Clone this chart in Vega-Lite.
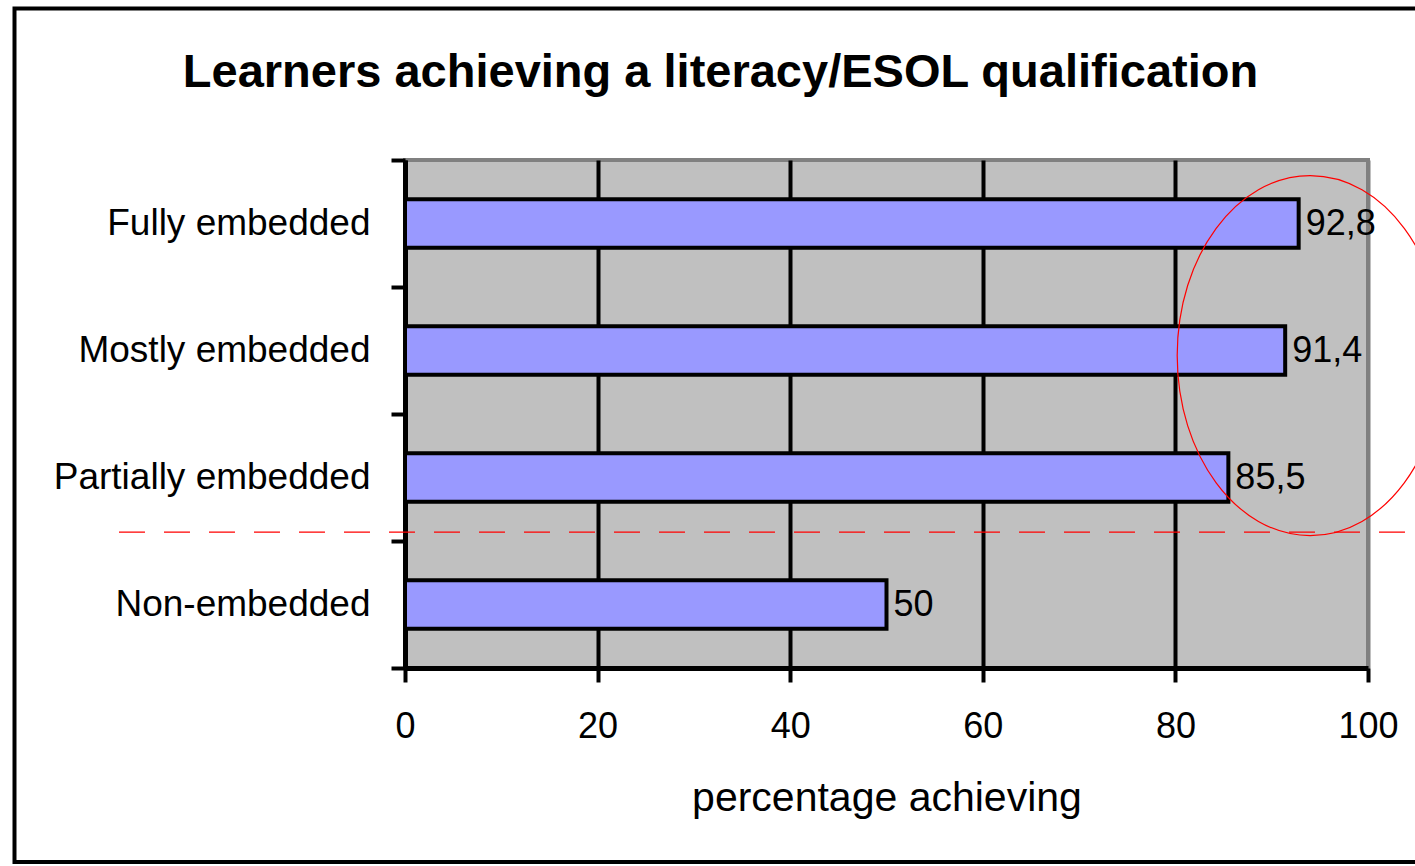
{
  "$schema": "https://vega.github.io/schema/vega-lite/v6.json",
  "autosize": {"type": "none"},
  "width": 963,
  "height": 508,
  "padding": {"left": 405, "top": 160, "right": 47, "bottom": 198},
  "background": "white",
  "config": {
    "font": "Liberation Sans",
    "view": {"fill": "#C0C0C0", "stroke": "#808080", "strokeWidth": 4}
  },
  "title": {
    "text": "Learners achieving a literacy/ESOL qualification",
    "font": "Liberation Sans",
    "fontSize": 47,
    "fontWeight": "bold",
    "color": "black",
    "anchor": "middle",
    "frame": "group",
    "dx": -166,
    "baseline": "alphabetic",
    "offset": -128
  },
  "datasets": {
    "bars": [
      {"category": "Fully embedded", "value": 92.8, "label": "92,8"},
      {"category": "Mostly embedded", "value": 91.4, "label": "91,4"},
      {"category": "Partially embedded", "value": 85.5, "label": "85,5"},
      {"category": "Non-embedded", "value": 50, "label": "50"}
    ],
    "cutoff": [{"x": -29.7, "x2": 105.5, "y": 2.93}],
    "circle": [{"x": 94.0, "y": 1.54}],
    "frame": [{"x": -40.55, "x2": 107, "y": -1.193, "y2": 5.528}]
  },
  "resolve": {"scale": {"y": "independent"}},
  "layer": [
    {
      "data": {"name": "bars"},
      "encoding": {
        "y": {
          "field": "category",
          "type": "nominal",
          "sort": null,
          "scale": {"paddingInner": 0, "paddingOuter": 0},
          "axis": {
            "title": null,
            "domainColor": "black",
            "domainWidth": 5,
            "tickColor": "black",
            "tickWidth": 4,
            "tickSize": 14,
            "tickBand": "extent",
            "labelFontSize": 37,
            "labelColor": "black",
            "labelPadding": 21,
            "labelLimit": 400,
            "grid": false
          }
        },
        "x": {
          "field": "value",
          "type": "quantitative",
          "scale": {"domain": [0, 100], "nice": false},
          "axis": {
            "values": [0, 20, 40, 60, 80, 100],
            "grid": true,
            "gridColor": {"condition": {"test": "datum.value === 100", "value": "#808080"}, "value": "black"},
            "gridWidth": 4,
            "domainColor": "black",
            "domainWidth": 5,
            "tickColor": "black",
            "tickWidth": 4,
            "tickSize": 14,
            "labelFontSize": 36,
            "labelColor": "black",
            "labelPadding": 27,
            "labelFlush": false,
            "title": "percentage achieving",
            "titleFontSize": 41,
            "titleFontWeight": "normal",
            "titleColor": "black",
            "titlePadding": 34
          }
        }
      },
      "layer": [
        {"mark": {"type": "bar", "fill": "#9999FF", "stroke": "black", "strokeWidth": 4, "height": {"band": 0.38}}},
        {
          "mark": {"type": "text", "align": "left", "baseline": "middle", "dx": 7, "fontSize": 36, "color": "black"},
          "encoding": {"text": {"field": "label"}}
        }
      ]
    },
    {
      "data": {"name": "cutoff"},
      "mark": {"type": "rule", "color": "#FF0000", "strokeWidth": 1.3, "strokeDash": [26, 19], "clip": false},
      "encoding": {
        "x": {"field": "x", "type": "quantitative", "scale": {"domain": [0, 100], "nice": false}},
        "x2": {"field": "x2"},
        "y": {"field": "y", "type": "quantitative", "scale": {"domain": [0, 4], "reverse": true, "nice": false, "zero": false}, "axis": null}
      }
    },
    {
      "data": {"name": "circle"},
      "mark": {
        "type": "point",
        "shape": "M -0.739,0 A 0.739,1 0 1 1 0.739,0 A 0.739,1 0 1 1 -0.739,0 Z",
        "size": 129600,
        "filled": false,
        "stroke": "#FF0000",
        "strokeWidth": 1.2,
        "opacity": 1,
        "clip": false
      },
      "encoding": {
        "x": {"field": "x", "type": "quantitative", "scale": {"domain": [0, 100], "nice": false}},
        "y": {"field": "y", "type": "quantitative", "scale": {"domain": [0, 4], "reverse": true, "nice": false, "zero": false}, "axis": null}
      }
    },
    {
      "data": {"name": "frame"},
      "mark": {"type": "rect", "fill": null, "stroke": "black", "strokeWidth": 4, "clip": false},
      "encoding": {
        "x": {"field": "x", "type": "quantitative", "scale": {"domain": [0, 100], "nice": false}},
        "x2": {"field": "x2"},
        "y": {"field": "y", "type": "quantitative", "scale": {"domain": [0, 4], "reverse": true, "nice": false, "zero": false}, "axis": null},
        "y2": {"field": "y2"}
      }
    }
  ]
}
